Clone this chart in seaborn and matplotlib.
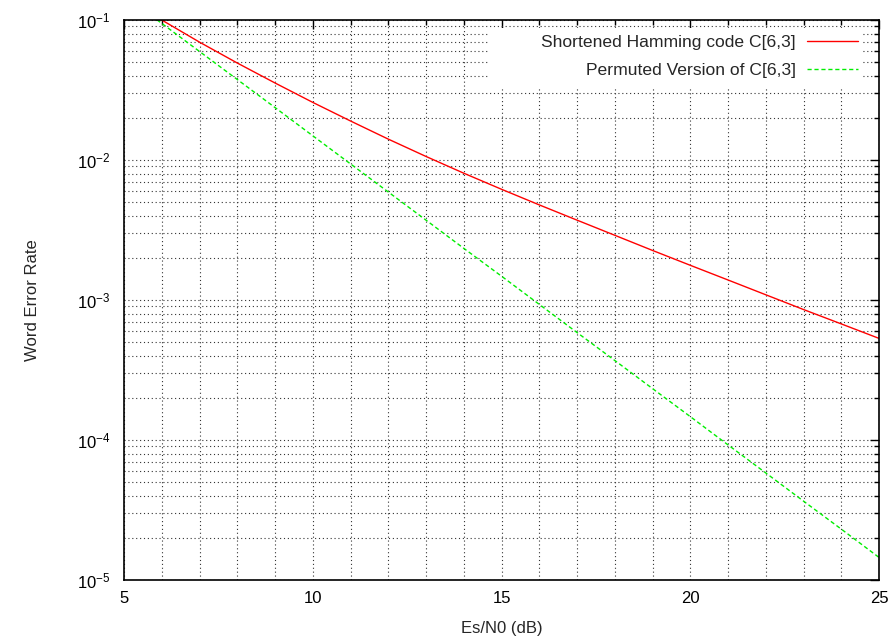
import numpy as np
import pandas as pd
import matplotlib
matplotlib.use("Agg")
import matplotlib.pyplot as plt
import matplotlib.ticker as mticker
from matplotlib.patches import Rectangle
import seaborn as sns

snr_db = [5, 6, 7, 8, 9, 10, 11, 12, 13, 14, 15, 16, 17, 18, 19, 20, 21, 22, 23, 24, 25]
wer_hamming = [0.145, 0.1, 0.0695, 0.0493, 0.0355, 0.0258, 0.019, 0.0141, 0.0106, 0.00805,
               0.00618, 0.00478, 0.00372, 0.0029, 0.00226, 0.00177, 0.00139, 0.00109,
               0.000855, 0.000675, 0.000532]
wer_permuted = [0.150, 0.0946, 0.0596, 0.0376, 0.0237, 0.0149, 0.00938, 0.00591, 0.00372,
                0.00234, 0.00148, 0.000931, 0.000586, 0.00037, 0.000233, 0.000147,
                0.0000923, 0.0000582, 0.0000366, 0.0000231, 0.0000145]
label_hamming = "Shortened Hamming code C[6,3]"
label_permuted = "Permuted Version of C[6,3]"
x_ticks = [5, 10, 15, 20, 25]
y_ticks = [1e-5, 1e-4, 1e-3, 1e-2, 1e-1]

sns.set_style("white")
plt.rcParams["font.family"] = ["Liberation Sans", "DejaVu Sans"]
plt.rcParams["mathtext.fontset"] = "custom"
plt.rcParams["mathtext.rm"] = "Liberation Sans"
plt.rcParams["mathtext.it"] = "Liberation Sans"
plt.rcParams["mathtext.default"] = "regular"

df = pd.DataFrame({"snr": snr_db, "h": wer_hamming, "p": wer_permuted})

fig = plt.figure(figsize=(8.94, 6.39), dpi=100)
ax = fig.add_axes([124 / 894, 1 - 580 / 639, 755 / 894, 560 / 639])
ax.set_axisbelow(True)

sns.lineplot(data=df, x="snr", y="h", ax=ax, color="#ff0000", lw=1.0, label=label_hamming)
sns.lineplot(data=df, x="snr", y="p", ax=ax, color="#00ee00", lw=1.0,
             linestyle=(0, (3, 2)), label=label_permuted)

ax.set_yscale("log")
ax.set_xlim(5, 25)
ax.set_ylim(1e-5, 1e-1)
ax.set_xticks(x_ticks)
ax.xaxis.set_minor_locator(mticker.MultipleLocator(1))
ax.set_yticks(y_ticks)
ax.yaxis.set_major_formatter(mticker.FuncFormatter(lambda v, p: r"$10^{%d}$" % round(np.log10(v))))
ax.yaxis.set_minor_locator(mticker.LogLocator(base=10, subs=np.arange(2, 10)))
ax.yaxis.set_minor_formatter(mticker.NullFormatter())

ax.grid(True, which="both", color="#333333", linestyle=(0, (1, 2.5)), linewidth=0.8)
ax.tick_params(which="both", direction="in", top=True, right=True, colors="black",
               labelsize=12)
ax.tick_params(axis="x", pad=8)
ax.tick_params(axis="y", pad=10)
ax.tick_params(which="major", length=6.5, width=1)
ax.tick_params(which="minor", length=3.5, width=1)
for s in ax.spines.values():
    s.set_color("black")
    s.set_linewidth(1.2)

ax.set_xlabel("Es/N0 (dB)", fontsize=12, labelpad=11)
ax.set_ylabel("Word Error Rate", fontsize=12, labelpad=26)

# blank (white) key area behind the legend, as in the reference
ax.add_patch(Rectangle((0.482, 0.8786), 0.979 - 0.482, 0.9857 - 0.8786,
                       transform=ax.transAxes, facecolor="white", edgecolor="none",
                       zorder=1))

leg = ax.legend(loc="upper right", bbox_to_anchor=(1.0, 1.0 + 6 / 560), frameon=False,
                markerfirst=False, fontsize=12.6,
                handlelength=2.91, handletextpad=0.63, borderaxespad=0.8,
                borderpad=0.4, labelspacing=0.72)
leg.set_zorder(5)

fig.savefig("out.png", dpi=100, facecolor="white")
